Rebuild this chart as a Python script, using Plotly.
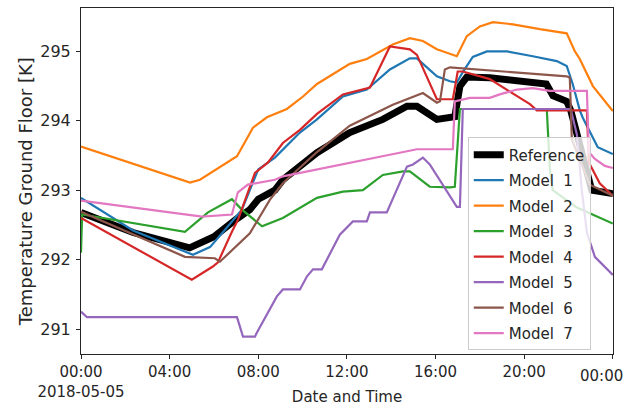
import pandas as pd
import plotly.graph_objects as go

START = pd.Timestamp("2018-05-05 00:00")

# hours after start, temperatures [K]
ref_h = [0, 2.35, 4.9, 6.0, 7.0, 7.62, 8.0, 8.75, 9.11, 10.65, 12.13, 13.62, 14.71, 15.16, 16.06, 16.65, 16.87, 17.1, 17.41, 18.45, 19.8, 21.0, 21.3, 21.92, 22.1, 22.5, 23.05, 24]
ref_t = [292.68, 292.39, 292.17, 292.33, 292.58, 292.72, 292.87, 293.0, 293.15, 293.54, 293.83, 294.02, 294.21, 294.21, 294.02, 294.05, 294.06, 294.5, 294.63, 294.62, 294.58, 294.53, 294.36, 294.28, 294.15, 293.68, 293.0, 292.95]

m1_h = [0, 2.35, 5.05, 5.82, 6.5, 7.26, 8.0, 8.75, 9.88, 10.65, 11.82, 12.9, 13.94, 14.84, 15.16, 16.06, 16.65, 16.96, 17.23, 17.68, 18.32, 19.22, 20.39, 21.47, 21.92, 22.19, 22.51, 22.65, 23.32, 24]
m1_t = [292.89, 292.42, 292.07, 292.18, 292.43, 292.72, 293.3, 293.47, 293.83, 294.02, 294.35, 294.45, 294.74, 294.9, 294.9, 294.64, 294.57, 294.55, 294.7, 294.92, 295.0, 295.0, 294.93, 294.86, 294.79, 294.53, 294.15, 294.04, 293.62, 293.52]

m2_h = [0, 4.92, 5.37, 7.04, 7.76, 8.39, 9.29, 10.02, 10.65, 12.13, 12.9, 14.07, 14.84, 15.43, 16.06, 16.96, 17.41, 18.0, 18.59, 19.49, 20.71, 21.92, 22.29, 22.51, 23.1, 23.73, 24]
m2_t = [293.63, 293.11, 293.15, 293.49, 293.9, 294.05, 294.17, 294.35, 294.53, 294.82, 294.89, 295.1, 295.19, 295.15, 295.03, 294.93, 295.22, 295.36, 295.42, 295.39, 295.32, 295.26, 295.0, 294.89, 294.5, 294.24, 294.14]

m3_h = [0, 0.05, 4.69, 5.73, 6.81, 7.26, 8.17, 9.11, 10.65, 11.82, 12.72, 13.62, 14.53, 14.84, 15.74, 16.65, 16.87, 17.1, 21.02, 21.16, 21.29, 22.38, 24]
m3_t = [292.1, 292.65, 292.4, 292.68, 292.87, 292.72, 292.48, 292.6, 292.89, 292.98, 293.0, 293.22, 293.27, 293.27, 293.05, 293.04, 293.05, 294.17, 294.17, 293.3, 293.0, 292.75, 292.52]

m4_h = [0, 5.0, 5.95, 6.18, 6.81, 7.08, 7.85, 8.44, 9.11, 9.88, 10.65, 11.82, 13.04, 13.94, 14.84, 15.16, 16.06, 16.78, 17.0, 17.23, 18.45, 19.22, 20.26, 20.57, 22.83, 22.92, 23.41, 24]
m4_t = [292.6, 291.71, 291.9, 291.96, 292.4, 292.57, 293.25, 293.4, 293.68, 293.87, 294.1, 294.38, 294.48, 295.07, 295.03, 294.95, 294.31, 294.31, 294.71, 294.71, 294.6, 294.45, 294.24, 294.15, 294.15, 293.4, 293.1, 292.92]

m5_h = [0, 0.27, 7.04, 7.31, 7.85, 7.94, 8.84, 9.11, 9.88, 10.2, 10.47, 10.87, 11.68, 12.0, 12.27, 12.9, 13.04, 13.8, 14.71, 14.98, 15.43, 15.74, 16.96, 17.1, 17.23, 22.1, 22.38, 22.6, 22.83, 23.19, 23.64, 24]
m5_t = [291.25, 291.17, 291.17, 290.89, 290.89, 290.95, 291.47, 291.57, 291.57, 291.76, 291.86, 291.86, 292.36, 292.46, 292.55, 292.55, 292.68, 292.68, 293.34, 293.37, 293.47, 293.37, 292.76, 292.76, 294.17, 294.17, 293.8, 293.0, 292.39, 292.04, 291.89, 291.78]

m6_h = [0, 2.35, 4.69, 6.04, 6.27, 7.62, 8.52, 9.11, 10.65, 12.13, 14.07, 15.43, 16.06, 16.2, 16.42, 16.65, 21.92, 22.06, 22.15, 22.96, 24]
m6_t = [292.69, 292.36, 292.04, 292.02, 291.97, 292.38, 292.86, 293.1, 293.55, 293.93, 294.23, 294.4, 294.26, 294.28, 294.74, 294.77, 294.64, 294.62, 293.73, 293.08, 292.92]

m7_h = [0, 5.46, 6.81, 7.08, 7.53, 8.75, 9.11, 10.65, 12.13, 13.62, 15.16, 16.78, 16.87, 17.55, 18.45, 18.9, 19.67, 20.39, 21.16, 22.83, 22.92, 23.19, 23.64, 24]
m7_t = [292.85, 292.62, 292.65, 292.97, 293.08, 293.15, 293.2, 293.3, 293.4, 293.49, 293.59, 293.59, 294.28, 294.33, 294.33, 294.38, 294.45, 294.47, 294.43, 294.43, 293.55, 293.45, 293.35, 293.32]

names = ["Reference", "Model  1", "Model  2", "Model  3", "Model  4", "Model  5", "Model  6", "Model  7"]
hours = [ref_h, m1_h, m2_h, m3_h, m4_h, m5_h, m6_h, m7_h]
temps = [ref_t, m1_t, m2_t, m3_t, m4_t, m5_t, m6_t, m7_t]
colors = ["#000000", "#1f77b4", "#ff7f0e", "#2ca02c", "#d62728", "#9467bd", "#8c564b", "#e377c2"]
widths = [7, 2.2, 2.2, 2.2, 2.2, 2.2, 2.2, 2.2]

tick_hours = [0, 4, 8, 12, 16, 20, 24]
tick_text = ["00:00<br>2018-05-05", "04:00", "08:00", "12:00", "16:00", "20:00", ""]
last_tick_text = "00:00"
y_ticks = [291, 292, 293, 294, 295]
y_title = "Temperature Ground Floor [K]"
x_title = "Date and Time"

def to_time(hs):
    return [START + pd.Timedelta(hours=h) for h in hs]

fig = go.Figure()
for i, (n, h, t) in enumerate(zip(names, hours, temps)):
    fig.add_trace(go.Scatter(
        x=to_time(h), y=t, mode="lines", name=n,
        line=dict(color=colors[i], width=widths[i]),
        legendgroup=f"g{i}",
    ))

FONT = "DejaVu Sans"
TXT = "#262626"
fig.update_layout(
    width=630, height=406,
    margin=dict(l=81, r=17, t=8, b=52),
    paper_bgcolor="white", plot_bgcolor="white",
    font=dict(family=FONT, size=15, color=TXT),
    showlegend=True,
    legend=dict(
        x=0.727, y=0.626, xanchor="left", yanchor="top",
        bgcolor="rgba(255,255,255,0.8)", bordercolor="#cccccc", borderwidth=1,
        font=dict(family=FONT, size=15, color=TXT),
        tracegroupgap=3,
        entrywidth=82, entrywidthmode="pixels",
    ),
    annotations=[
        dict(
            text=y_title, textangle=-90, showarrow=False,
            xref="paper", yref="paper", x=-0.105, y=0.468,
            xanchor="center", yanchor="middle",
            font=dict(family=FONT, size=18, color=TXT),
        ),
        dict(
            text=last_tick_text, showarrow=False,
            xref="paper", yref="paper", x=1.0, y=0.0,
            xanchor="center", yanchor="middle", xshift=-12, yshift=-22,
            font=dict(family=FONT, size=15, color=TXT),
        ),
    ],
)
fig.update_xaxes(
    automargin=False,
    range=[START, START + pd.Timedelta(hours=24, seconds=30)],
    tickvals=to_time(tick_hours), ticktext=tick_text,
    ticklabeloverflow="allow",
    showgrid=False, zeroline=False,
    showline=True, mirror=True, linecolor="#262626", linewidth=1,
    ticks="outside", ticklen=4, tickcolor="#262626",
    ticklabelstandoff=0,
    tickfont=dict(family=FONT, size=15, color=TXT),
    title=dict(text=x_title, font=dict(family=FONT, size=15, color=TXT), standoff=4),
)
fig.update_yaxes(
    automargin=False,
    range=[290.64, 295.625],
    tickvals=y_ticks, ticktext=[str(v) for v in y_ticks],
    showgrid=False, zeroline=False,
    showline=True, mirror=True, linecolor="#262626", linewidth=1,
    ticks="outside", ticklen=4, tickcolor="#262626",
    ticklabelstandoff=2,
    tickfont=dict(family=FONT, size=16, color=TXT),
)

fig.write_html("out.html", post_script="document.body.style.margin='0';",
               config={"displayModeBar": False})
